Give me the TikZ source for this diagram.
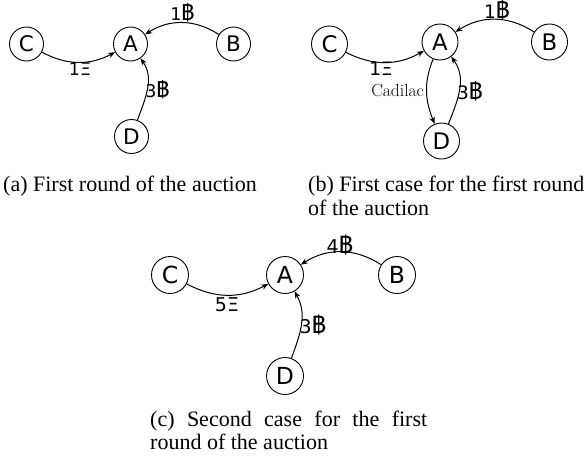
\documentclass[tikz,border=0pt]{standalone}
\usepackage{fontspec}
\newfontfamily\capfont{Liberation Serif}
\newfontfamily\sansf{DejaVu Sans}
\newfontfamily\thaif[Script=Thai,Scale=1.25]{Loma}
\usetikzlibrary{arrows.meta}
\newcommand\mybtc{{\thaif ฿}}
\newcommand\myxi{Ξ}
\tikzset{
  vtx/.style 2 args={circle,draw,line width=0.9pt,inner sep=0pt,minimum size=#1,
    font=\sansf\fontsize{#2}{#2}\selectfont},
  lbl/.style={font=\sansf\fontsize{#1}{#1}\selectfont,inner sep=0pt,anchor=base},
  edg/.style={line width=1pt,-{Stealth[length=7pt,width=5.5pt]}},
  captxt/.style={font=\capfont\fontsize{22}{23.5}\selectfont,inner sep=0pt,anchor=base west},
}
\begin{document}
\begin{tikzpicture}[x=1pt,y=1pt]
\useasboundingbox (0,0) rectangle (585,-458);
% ---------- (a)
\node[vtx={34}{21.5}] (aC) at (26.5,-44) {C};
\node[vtx={34}{21.5}] (aA) at (130.5,-44) {A};
\node[vtx={34}{21.5}] (aB) at (233.5,-44) {B};
\node[vtx={34}{21.5}] (aD) at (131.5,-136.5) {D};
\draw[edg] (aC) to[bend right=28] (aA);
\draw[edg] (aB) to[bend right=33] (aA);
\draw[edg] (aD) to[out=70,in=-55] (aA);
\node[lbl=17.5] (aL1) at (80,-75) {1\myxi};
\node[lbl=17.5] (aL2) at (182.5,-20) {1\mybtc};
\node[lbl=17.5] (aL3) at (157.5,-97.3) {3\mybtc};
\node[captxt] (acap) at (3,-191.7) {(a) First round of the auction};
% ---------- (b)
\node[vtx={36}{22.8}] (bC) at (329.5,-44) {C};
\node[vtx={36}{22.8}] (bA) at (440,-42) {A};
\node[vtx={36}{22.8}] (bB) at (549.5,-42) {B};
\node[vtx={36}{22.8}] (bD) at (441.5,-141) {D};
\draw[edg] (bC) to[bend right=28] (bA);
\draw[edg] (bB) to[bend right=33] (bA);
\draw[edg] (bA) to[out=-112,in=112] (bD);
\draw[edg] (bD) to[out=68,in=-53] (bA);
\node[lbl=18.5] (bL1) at (381,-75) {1\myxi};
\node[lbl=18.5] (bL2) at (497,-18.3) {1\mybtc};
\node[lbl=18.5] (bL3) at (470,-99.3) {3\mybtc};
\node[font=\fontsize{17.5}{17.5}\selectfont,inner sep=0pt,anchor=base east] (bL4) at (424,-96.5) {Cadilac};
\node[captxt] (bcap1) at (308,-191.7) {(b) First case for the first round};
\node[captxt] (bcap2) at (308,-215.2) {of the auction};
% ---------- (c)
\node[vtx={37}{23.5}] (cC) at (170,-275) {C};
\node[vtx={37}{23.5}] (cA) at (285,-275) {A};
\node[vtx={37}{23.5}] (cB) at (397,-275) {B};
\node[vtx={37}{23.5}] (cD) at (285,-376) {D};
\draw[edg] (cC) to[bend right=28] (cA);
\draw[edg] (cB) to[bend right=33] (cA);
\draw[edg] (cD) to[out=70,in=-60] (cA);
\node[lbl=19] (cL1) at (227,-311) {5\myxi};
\node[lbl=19] (cL2) at (340,-253.3) {4\mybtc};
\node[lbl=19] (cL3) at (313,-333.3) {3\mybtc};
\node[captxt] (ccap1) at (150,-426.7) {\makebox[277pt][s]{(c) Second case for the first}};
\node[captxt] (ccap2) at (150,-449.5) {round of the auction};
\end{tikzpicture}
\end{document}
